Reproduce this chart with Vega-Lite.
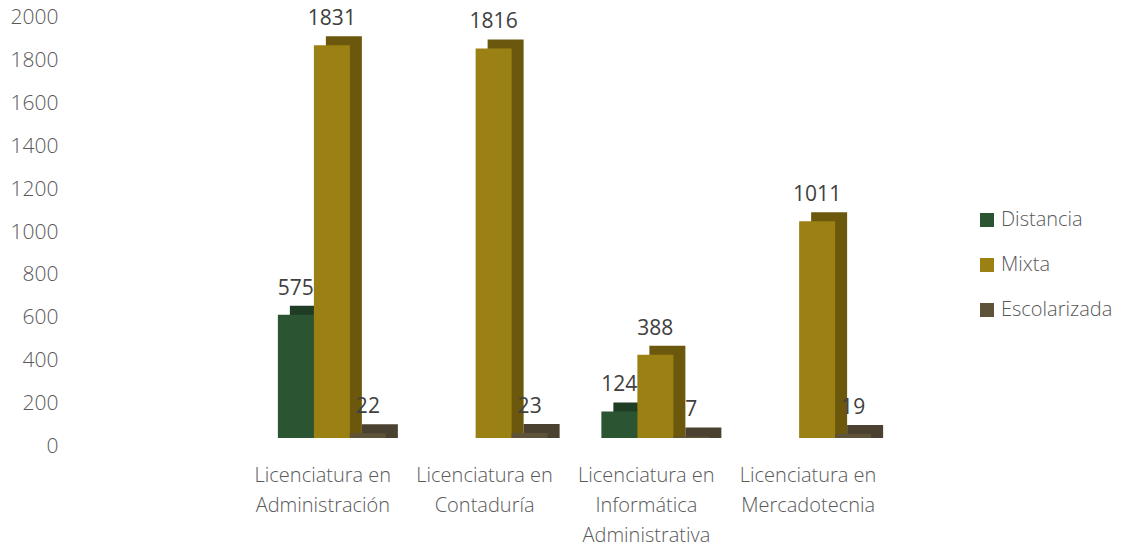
{
  "$schema": "https://vega.github.io/schema/vega-lite/v6.json",
  "autosize": "none",
  "width": 647,
  "height": 429,
  "padding": {"left": 251, "top": 9, "right": 224, "bottom": 110},
  "background": "white",
  "config": {"view": {"stroke": null}, "font": "Open Sans"},
  "data": {
    "values": [
      {"cat": "Licenciatura en Administración", "series": "Distancia", "value": 575},
      {"cat": "Licenciatura en Administración", "series": "Mixta", "value": 1831},
      {"cat": "Licenciatura en Administración", "series": "Escolarizada", "value": 22},
      {"cat": "Licenciatura en Contaduría", "series": "Mixta", "value": 1816},
      {"cat": "Licenciatura en Contaduría", "series": "Escolarizada", "value": 23},
      {"cat": "Licenciatura en Informática Administrativa", "series": "Distancia", "value": 124},
      {"cat": "Licenciatura en Informática Administrativa", "series": "Mixta", "value": 388},
      {"cat": "Licenciatura en Informática Administrativa", "series": "Escolarizada", "value": 7},
      {"cat": "Licenciatura en Mercadotecnia", "series": "Mixta", "value": 1011},
      {"cat": "Licenciatura en Mercadotecnia", "series": "Escolarizada", "value": 19}
    ]
  },
  "encoding": {
    "x": {
      "field": "cat", "type": "nominal", "sort": null,
      "scale": {"paddingInner": 0.3323, "paddingOuter": 0.16615},
      "axis": {
        "title": null, "domain": false, "ticks": false, "labelAngle": 0,
        "labelPadding": 27, "labelOffset": -9, "labelFontSize": 20, "labelFontWeight": 300,
        "labelColor": "#595959", "labelLineHeight": 30, "labelBaseline": "top",
        "labelExpr": "datum.value == 'Licenciatura en Informática Administrativa' ? ['Licenciatura en', 'Informática', 'Administrativa'] : ['Licenciatura en', replace(datum.value, 'Licenciatura en ', '')]"
      }
    },
    "y": {
      "field": "value", "type": "quantitative",
      "scale": {"domain": [0, 2000], "nice": false},
      "axis": {
        "title": null, "domain": false, "ticks": false, "grid": false, "format": "d",
        "values": [0, 200, 400, 600, 800, 1000, 1200, 1400, 1600, 1800, 2000],
        "labelPadding": 193, "labelOffset": 8.5, "labelFontSize": 21, "labelFontWeight": 300,
        "labelColor": "#595959"
      }
    }
  },
  "resolve": {"scale": {"xOffset": "independent"}},
  "layer": [
    {
      "mark": {"type": "bar", "yOffset": -9},
      "encoding": {
        "y2": {"datum": 0},
        "xOffset": {"field": "series", "type": "nominal",
          "scale": {"domain": ["Distancia", "Mixta", "Escolarizada"], "range": [12, 120], "paddingInner": 0, "paddingOuter": 0}},
        "color": {
          "condition": [
            {"test": "datum.series === 'Distancia'", "value": "#1f3d25"},
            {"test": "datum.series === 'Mixta'", "value": "#6c580d"}
          ],
          "value": "#4a4130"
        }
      }
    },
    {
      "mark": {"type": "bar"},
      "encoding": {
        "xOffset": {"field": "series", "type": "nominal",
          "scale": {"domain": ["Distancia", "Mixta", "Escolarizada"], "range": [0, 108], "paddingInner": 0, "paddingOuter": 0}},
        "color": {
          "field": "series", "type": "nominal",
          "scale": {"domain": ["Distancia", "Mixta", "Escolarizada"], "range": ["#2b5433", "#9b8113", "#5e5238"]},
          "legend": {
            "title": null, "orient": "none", "legendX": 726, "legendY": 201,
            "symbolType": "square", "symbolSize": 196, "symbolStrokeWidth": 0,
            "labelFontSize": 20, "labelFontWeight": 300, "labelColor": "#595959",
            "rowPadding": 25, "labelOffset": 4
          }
        }
      }
    },
    {
      "mark": {"type": "text", "baseline": "bottom", "dy": -16, "fontSize": 21, "color": "#404040"},
      "encoding": {
        "xOffset": {"field": "series", "type": "nominal",
          "scale": {"domain": ["Distancia", "Mixta", "Escolarizada"], "range": [18, 90], "padding": 0}},
        "text": {"field": "value", "type": "quantitative"}
      }
    }
  ]
}
